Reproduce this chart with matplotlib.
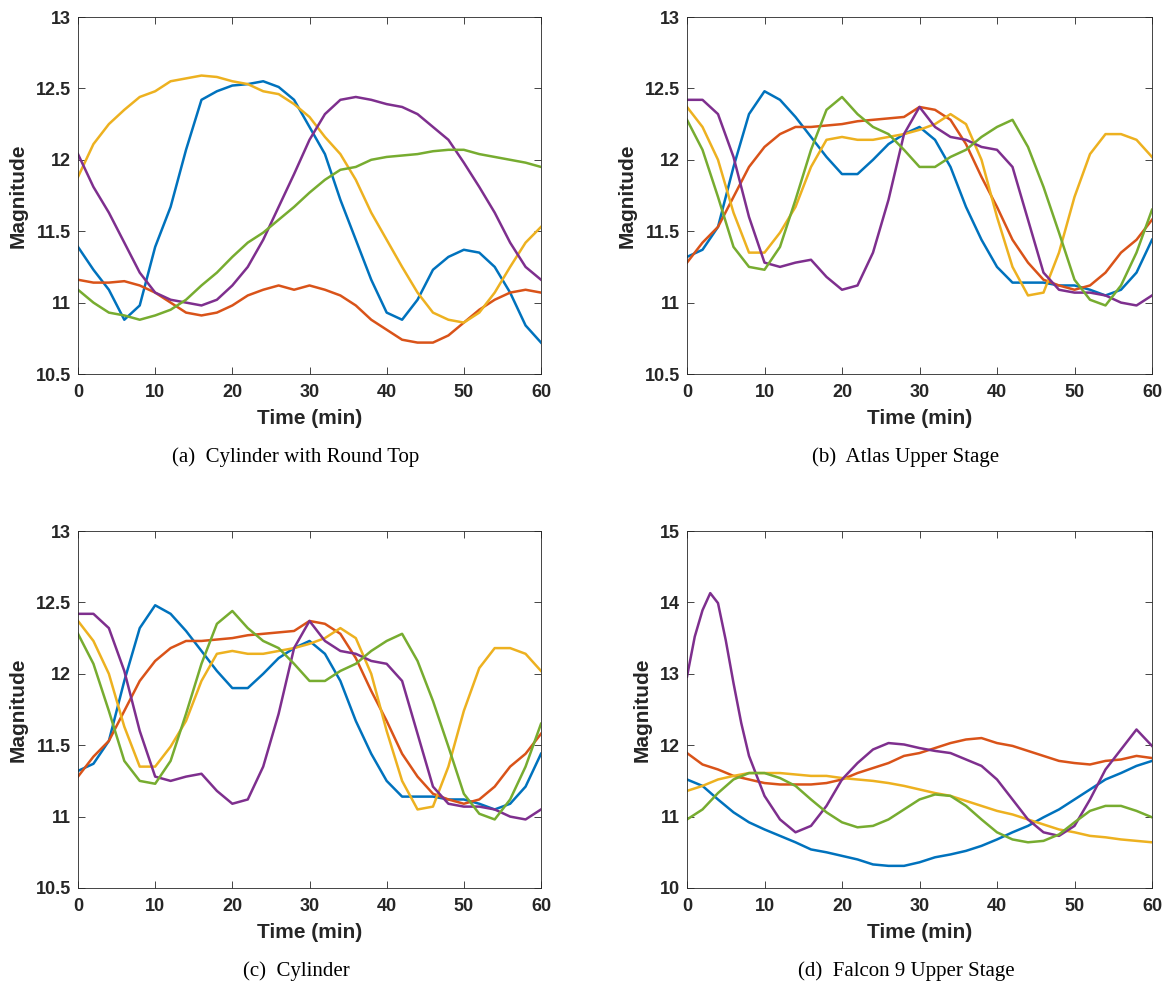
import matplotlib
matplotlib.use('Agg')
import matplotlib.pyplot as plt

# MATLAB default line colours
BLUE, ORANGE, YELLOW, PURPLE, GREEN = '#0072BD', '#D95319', '#EDB120', '#7E2F8E', '#77AC30'

# sample times (min), every 2 min
T = list(range(0, 61, 2))

# (a) Cylinder with Round Top
a_blue = [11.39, 11.23, 11.09, 10.88, 10.98, 11.39, 11.67, 12.07, 12.42, 12.48, 12.52,
          12.53, 12.55, 12.51, 12.42, 12.23, 12.04, 11.72, 11.44, 11.16, 10.93, 10.88,
          11.02, 11.23, 11.32, 11.37, 11.35, 11.25, 11.07, 10.84, 10.72]
a_orange = [11.16, 11.14, 11.14, 11.15, 11.12, 11.07, 11.00, 10.93, 10.91, 10.93, 10.98,
            11.05, 11.09, 11.12, 11.09, 11.12, 11.09, 11.05, 10.98, 10.88, 10.81, 10.74,
            10.72, 10.72, 10.77, 10.86, 10.95, 11.02, 11.07, 11.09, 11.07]
a_yellow = [11.88, 12.11, 12.25, 12.35, 12.44, 12.48, 12.55, 12.57, 12.59, 12.58, 12.55,
            12.53, 12.48, 12.46, 12.39, 12.30, 12.16, 12.04, 11.86, 11.63, 11.44, 11.25,
            11.07, 10.93, 10.88, 10.86, 10.93, 11.07, 11.25, 11.42, 11.53]
a_purple = [12.04, 11.81, 11.63, 11.42, 11.21, 11.07, 11.02, 11.00, 10.98, 11.02, 11.12,
            11.25, 11.44, 11.67, 11.90, 12.14, 12.32, 12.42, 12.44, 12.42, 12.39, 12.37,
            12.32, 12.23, 12.14, 11.98, 11.81, 11.63, 11.42, 11.25, 11.16]
a_green = [11.09, 11.00, 10.93, 10.91, 10.88, 10.91, 10.95, 11.02, 11.12, 11.21, 11.32,
           11.42, 11.49, 11.58, 11.67, 11.77, 11.86, 11.93, 11.95, 12.00, 12.02, 12.03,
           12.04, 12.06, 12.07, 12.07, 12.04, 12.02, 12.00, 11.98, 11.95]

# (b) Atlas Upper Stage, (c) Cylinder shows the same curves
b_blue = [11.32, 11.37, 11.53, 11.95, 12.32, 12.48, 12.42, 12.30, 12.16, 12.02, 11.90,
          11.90, 12.00, 12.11, 12.18, 12.23, 12.14, 11.95, 11.67, 11.44, 11.25, 11.14,
          11.14, 11.14, 11.12, 11.12, 11.09, 11.05, 11.09, 11.21, 11.44]
b_orange = [11.28, 11.42, 11.53, 11.74, 11.95, 12.09, 12.18, 12.23, 12.23, 12.24, 12.25,
            12.27, 12.28, 12.29, 12.30, 12.37, 12.35, 12.28, 12.11, 11.88, 11.67, 11.44,
            11.28, 11.16, 11.12, 11.09, 11.12, 11.21, 11.35, 11.44, 11.58]
b_yellow = [12.37, 12.23, 12.00, 11.63, 11.35, 11.35, 11.49, 11.67, 11.95, 12.14, 12.16,
            12.14, 12.14, 12.16, 12.18, 12.21, 12.25, 12.32, 12.25, 12.00, 11.60, 11.25,
            11.05, 11.07, 11.35, 11.74, 12.04, 12.18, 12.18, 12.14, 12.02]
b_purple = [12.42, 12.42, 12.32, 12.02, 11.60, 11.28, 11.25, 11.28, 11.30, 11.18, 11.09,
            11.12, 11.35, 11.72, 12.18, 12.37, 12.23, 12.16, 12.14, 12.09, 12.07, 11.95,
            11.58, 11.21, 11.09, 11.07, 11.07, 11.05, 11.00, 10.98, 11.05]
b_green = [12.28, 12.07, 11.74, 11.39, 11.25, 11.23, 11.39, 11.72, 12.07, 12.35, 12.44,
           12.32, 12.23, 12.18, 12.07, 11.95, 11.95, 12.02, 12.07, 12.16, 12.23, 12.28,
           12.09, 11.81, 11.49, 11.16, 11.02, 10.98, 11.12, 11.35, 11.65]

# (d) Falcon 9 Upper Stage
d_blue = [11.52, 11.43, 11.24, 11.06, 10.92, 10.82, 10.73, 10.64, 10.54, 10.50, 10.45,
          10.40, 10.33, 10.31, 10.31, 10.36, 10.43, 10.47, 10.52, 10.59, 10.68, 10.78,
          10.87, 10.99, 11.10, 11.24, 11.38, 11.52, 11.61, 11.71, 11.78]
d_orange = [11.89, 11.73, 11.66, 11.57, 11.52, 11.47, 11.45, 11.45, 11.45, 11.47, 11.52,
            11.61, 11.68, 11.75, 11.85, 11.89, 11.96, 12.03, 12.08, 12.10, 12.03, 11.99,
            11.92, 11.85, 11.78, 11.75, 11.73, 11.78, 11.80, 11.85, 11.82]
d_yellow = [11.36, 11.43, 11.52, 11.57, 11.61, 11.61, 11.61, 11.59, 11.57, 11.57, 11.54,
            11.52, 11.50, 11.47, 11.43, 11.38, 11.33, 11.29, 11.22, 11.15, 11.08, 11.03,
            10.96, 10.89, 10.82, 10.78, 10.73, 10.71, 10.68, 10.66, 10.64]
d_purple_t = [0, 1, 2, 3, 4, 5, 6, 7, 8, 10, 12, 14, 16, 18, 20, 22, 24, 26, 28, 30,
              32, 34, 36, 38, 40, 42, 44, 46, 48, 50, 52, 54, 56, 58, 60]
d_purple = [12.96, 13.52, 13.89, 14.13, 13.99, 13.47, 12.87, 12.31, 11.85, 11.29, 10.96,
            10.78, 10.87, 11.15, 11.52, 11.75, 11.94, 12.03, 12.01, 11.96, 11.92, 11.89,
            11.80, 11.71, 11.52, 11.24, 10.96, 10.78, 10.73, 10.87, 11.24, 11.66, 11.94,
            12.22, 11.99]
d_green = [10.96, 11.10, 11.33, 11.52, 11.61, 11.61, 11.54, 11.43, 11.24, 11.06, 10.92,
           10.85, 10.87, 10.96, 11.10, 11.24, 11.31, 11.29, 11.15, 10.96, 10.78, 10.68,
           10.64, 10.66, 10.75, 10.92, 11.08, 11.15, 11.15, 11.08, 10.99]

captions = ['(a)  Cylinder with Round Top', '(b)  Atlas Upper Stage',
            '(c)  Cylinder', '(d)  Falcon 9 Upper Stage']

W, H = 1169, 986
fig = plt.figure(figsize=(W / 100, H / 100), dpi=100)


def px_axes(left, top, right, bottom):
    return fig.add_axes([left / W, 1 - bottom / H, (right - left) / W, (bottom - top) / H])


def style(ax, ylim, yticks):
    ax.set_xlim(0, 60)
    ax.set_ylim(*ylim)
    ax.set_xticks(range(0, 61, 10))
    ax.set_yticks(yticks)
    ax.set_yticklabels([f'{v:g}' for v in yticks])
    ax.tick_params(direction='in', top=True, right=True, length=5, width=0.6,
                   color='#262626', labelsize=13)
    ax.tick_params(axis='x', pad=7)
    ax.tick_params(axis='y', pad=5)
    for lbl in ax.get_xticklabels() + ax.get_yticklabels():
        lbl.set_fontweight('bold')
        lbl.set_color('#262626')
    for sp in ax.spines.values():
        sp.set_color('#262626')
        sp.set_linewidth(0.6)
    ax.set_xlabel('Time (min)', fontsize=15, fontweight='bold', labelpad=6, color='#262626')
    ax.set_ylabel('Magnitude', fontsize=15, fontweight='bold', labelpad=6, color='#262626')


plt.rcParams['font.family'] = ['Liberation Sans', 'DejaVu Sans']
LW = 1.8

ax_a = px_axes(78, 17, 541, 374)
for y, c in [(a_blue, BLUE), (a_orange, ORANGE), (a_yellow, YELLOW), (a_purple, PURPLE), (a_green, GREEN)]:
    ax_a.plot(T, y, color=c, lw=LW)
style(ax_a, (10.5, 13), [10.5, 11, 11.5, 12, 12.5, 13])

ax_b = px_axes(687, 17, 1152, 374)
ax_c = px_axes(78, 531, 541, 888)
for ax in (ax_b, ax_c):
    for y, c in [(b_blue, BLUE), (b_orange, ORANGE), (b_yellow, YELLOW), (b_purple, PURPLE), (b_green, GREEN)]:
        ax.plot(T, y, color=c, lw=LW)
    style(ax, (10.5, 13), [10.5, 11, 11.5, 12, 12.5, 13])

ax_d = px_axes(687, 531, 1152, 888)
ax_d.plot(T, d_blue, color=BLUE, lw=LW)
ax_d.plot(T, d_orange, color=ORANGE, lw=LW)
ax_d.plot(T, d_yellow, color=YELLOW, lw=LW)
ax_d.plot(d_purple_t, d_purple, color=PURPLE, lw=LW)
ax_d.plot(T, d_green, color=GREEN, lw=LW)
style(ax_d, (10, 15), [10, 11, 12, 13, 14, 15])

cap_pos = [(296, 457), (906, 457), (296, 971), (906, 971)]
for (x, y), txt in zip(cap_pos, captions):
    fig.text(x / W, 1 - y / H, txt, ha='center', va='center',
             family=['Liberation Serif', 'DejaVu Serif'], fontsize=15)

fig.savefig('out.png', dpi=100)
